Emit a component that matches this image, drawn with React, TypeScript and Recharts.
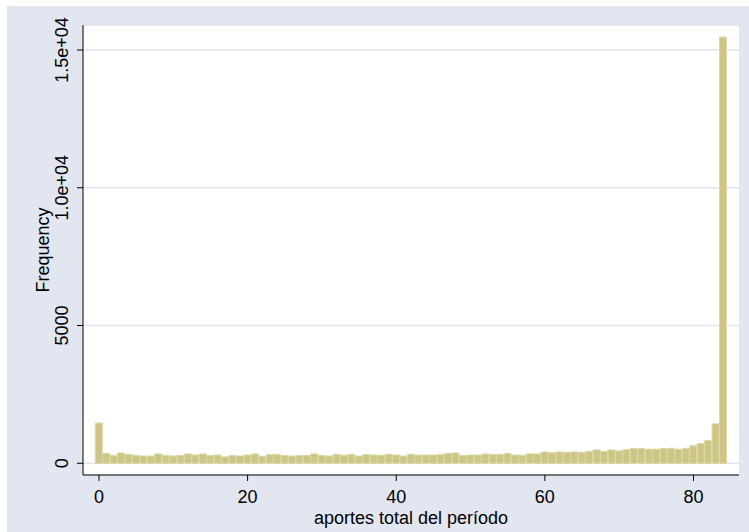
import React from "react";
import { BarChart, Bar, XAxis, YAxis, CartesianGrid, Label } from "recharts";

const bins = [
  0, 1, 2, 3, 4, 5, 6, 7, 8, 9, 10, 11, 12, 13, 14, 15, 16, 17, 18, 19, 20,
  21, 22, 23, 24, 25, 26, 27, 28, 29, 30, 31, 32, 33, 34, 35, 36, 37, 38, 39, 40,
  41, 42, 43, 44, 45, 46, 47, 48, 49, 50, 51, 52, 53, 54, 55, 56, 57, 58, 59, 60,
  61, 62, 63, 64, 65, 66, 67, 68, 69, 70, 71, 72, 73, 74, 75, 76, 77, 78, 79, 80,
  81, 82, 83, 84,
];

const frequency = [
  1460, 360, 290, 375, 325, 290, 265, 265, 340, 290, 265, 290, 340, 300, 340,
  280, 300, 230, 280, 265, 300, 340, 255, 315, 325, 280, 265, 280, 280, 340,
  290, 265, 325, 290, 325, 265, 315, 300, 290, 325, 300, 265, 325, 300, 300,
  300, 315, 360, 375, 280, 300, 300, 340, 325, 325, 360, 300, 290, 340, 340,
  410, 385, 410, 400, 410, 400, 435, 485, 435, 485, 450, 495, 535, 535, 510,
  510, 535, 545, 510, 545, 640, 715, 825, 1430, 15470,
];

const xTicks = [0, 20, 40, 60, 80];
const yTicks = [0, 5000, 10000, 15000];
const yTickLabels = ["0", "5000", "1.0e+04", "1.5e+04"];

const data = bins.map((b, i) => ({ bin: b, freq: frequency[i] }));

const FONT = "'Liberation Sans', Arial, sans-serif";
const BG = "#e2e6f0";
const GRID = "#dfe5f0";

const YTick = (props: any) => {
  const { x, y, payload } = props;
  const idx = yTicks.indexOf(payload.value);
  const label = idx >= 0 ? yTickLabels[idx] : String(payload.value);
  const cx = x - 14.5;
  return (
    <text
      x={cx}
      y={y}
      transform={`rotate(-90, ${cx}, ${y})`}
      textAnchor="middle"
      dominantBaseline="central"
      fontFamily={FONT}
      fontSize={18}
      fill="#000"
    >
      {label}
    </text>
  );
};

const XTick = (props: any) => {
  const { x, y, payload } = props;
  return (
    <text
      x={x}
      y={y + 22}
      textAnchor="middle"
      fontFamily={FONT}
      fontSize={18}
      fill="#000"
    >
      {payload.value}
    </text>
  );
};

export default function App() {
  return (
    <div style={{ position: "relative", width: 749, height: 532, background: "#fff" }}>
      <style>{`body{margin:0}`}</style>
      <div
        style={{
          position: "absolute",
          left: 7,
          top: 6,
          width: 742,
          height: 526,
          background: BG,
        }}
      >
        <BarChart
          width={742}
          height={526}
          data={data}
          margin={{ top: 19, right: 10, left: 0, bottom: 0 }}
          barCategoryGap={0}
          barGap={0}
        >
          <CartesianGrid
            vertical={false}
            stroke={GRID}
            strokeWidth={1.5}
            fill="#ffffff"
            fillOpacity={1}
          />
          <XAxis
            dataKey="bin"
            type="number"
            domain={[-2.15, 86.12]}
            ticks={xTicks}
            allowDataOverflow
            height={57}
            tickSize={6}
            tickMargin={0}
            tick={<XTick />}
            axisLine={{ stroke: "#000", strokeWidth: 1 }}
            tickLine={{ stroke: "#000", strokeWidth: 1 }}
          >
            <Label
              content={(p: any) => {
                const vb = p.viewBox || {};
                return (
                  <text
                    x={vb.x + vb.width / 2}
                    y={vb.y + 49}
                    textAnchor="middle"
                    fontFamily={FONT}
                    fontSize={18}
                    fill="#000"
                  >
                    aportes total del período
                  </text>
                );
              }}
            />
          </XAxis>
          <YAxis
            type="number"
            domain={[-425, 15907]}
            ticks={yTicks}
            allowDataOverflow
            width={76}
            tickSize={6}
            tickMargin={0}
            tick={<YTick />}
            axisLine={{ stroke: "#000", strokeWidth: 1 }}
            tickLine={{ stroke: "#000", strokeWidth: 1 }}
          >
            <Label
              content={(p: any) => {
                const vb = p.viewBox || {};
                const cx = vb.x + 35.5;
                const cy = vb.y + vb.height / 2;
                return (
                  <text
                    x={cx}
                    y={cy}
                    transform={`rotate(-90, ${cx}, ${cy})`}
                    textAnchor="middle"
                    dominantBaseline="central"
                    fontFamily={FONT}
                    fontSize={18}
                    fill="#000"
                  >
                    Frequency
                  </text>
                );
              }}
            />
          </YAxis>
          <Bar
            dataKey="freq"
            fill="#cdc586"
            stroke="#dcd7a5"
            strokeWidth={1}
            isAnimationActive={false}
          />
        </BarChart>
      </div>
    </div>
  );
}
